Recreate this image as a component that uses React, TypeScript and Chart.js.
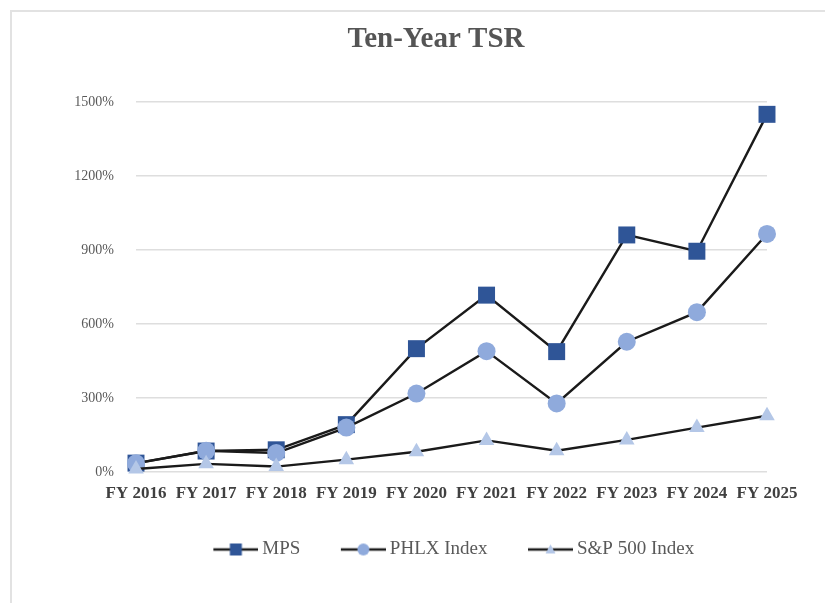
import React, { useEffect, useRef } from 'react';
import { Chart, registerables } from 'chart.js';

Chart.register(...registerables);

const chartTitle = 'Ten-Year TSR';
const categories = ['FY 2016', 'FY 2017', 'FY 2018', 'FY 2019', 'FY 2020', 'FY 2021', 'FY 2022', 'FY 2023', 'FY 2024', 'FY 2025'];
const seriesNames = ['MPS', 'PHLX Index', 'S&P 500 Index'];
const mpsValues = [36, 85, 90, 192, 500, 717, 488, 961, 895, 1450];
const phlxValues = [35, 86, 77, 180, 318, 490, 278, 528, 648, 965];
const spValues = [12, 33, 22, 50, 82, 128, 86, 130, 180, 228];
const yTickMin = 0;
const yTickMax = 1500;
const yTickStep = 300;

const FONT = "'Liberation Serif', 'Times New Roman', serif";
const LINE = '#1a1a1a';
const COLORS = ['#2F5597', '#8FAADC', '#B4C7E7'];
const STYLES = ['rect', 'circle', 'triangle'];
const RADII = [12, 9, 9];

// legend icon: transparent left margin, then a 45px line with the marker in its middle
const ICON_W = 55;
const ICON_LINE = 45;
function legendIcon(style: string, color: string): HTMLCanvasElement {
  const c = document.createElement('canvas');
  c.width = ICON_W;
  c.height = 16;
  const ctx = c.getContext('2d')!;
  const x0 = ICON_W - ICON_LINE;
  const cx = x0 + ICON_LINE / 2;
  ctx.strokeStyle = LINE;
  ctx.lineWidth = 2.5;
  ctx.beginPath();
  ctx.moveTo(x0, 8);
  ctx.lineTo(ICON_W, 8);
  ctx.stroke();
  ctx.fillStyle = color;
  ctx.beginPath();
  if (style === 'rect') {
    ctx.rect(cx - 6, 2, 12, 12);
  } else if (style === 'circle') {
    ctx.arc(cx, 8, 6, 0, Math.PI * 2);
  } else {
    ctx.moveTo(cx, 3);
    ctx.lineTo(cx + 5, 12);
    ctx.lineTo(cx - 5, 12);
    ctx.closePath();
  }
  ctx.fill();
  return c;
}

const framePlugin = {
  id: 'frameAndTitle',
  beforeDraw(chart: any) {
    const ctx = chart.ctx;
    ctx.save();
    ctx.fillStyle = '#ffffff';
    ctx.fillRect(0, 0, chart.width, chart.height);
    ctx.strokeStyle = '#e2e2e2';
    ctx.lineWidth = 2;
    ctx.strokeRect(11, 11, chart.width + 20, chart.height + 20);
    ctx.restore();
  },
  afterDraw(chart: any) {
    const ctx = chart.ctx;
    ctx.save();
    ctx.font = `bold 29px ${FONT}`;
    ctx.fillStyle = '#555555';
    ctx.textAlign = 'center';
    ctx.textBaseline = 'middle';
    ctx.fillText(chartTitle, 436, 40);
    ctx.restore();
  },
};

export default function App() {
  const ref = useRef<HTMLCanvasElement>(null);

  useEffect(() => {
    if (!ref.current) return;
    const seriesValues = [mpsValues, phlxValues, spValues];
    const icons = STYLES.map((s, i) => legendIcon(s, COLORS[i]));
    const chart = new Chart(ref.current, {
      type: 'line',
      data: {
        labels: categories,
        datasets: seriesNames.map((name, i) => ({
          label: name,
          data: seriesValues[i],
          borderColor: LINE,
          borderWidth: 2.4,
          tension: 0,
          fill: false,
          pointStyle: STYLES[i] as any,
          pointRadius: RADII[i],
          pointHoverRadius: RADII[i],
          pointBackgroundColor: COLORS[i],
          pointBorderColor: COLORS[i],
          pointBorderWidth: 0,
          order: 3 - i,
          clip: false as any,
        })),
      },
      options: {
        responsive: false,
        animation: false,
        layout: { padding: { left: 20, right: 58, top: 102, bottom: 34 } },
        plugins: {
          title: { display: false },
          tooltip: { enabled: false },
          legend: {
            display: true,
            position: 'bottom',
            fullSize: false,
            labels: {
              usePointStyle: true,
              pointStyleWidth: 44,
              padding: 36,
              color: '#595959',
              font: { family: FONT, size: 19 },
              generateLabels: () =>
                seriesNames.map((name, i) => ({
                  text: name,
                  pointStyle: icons[i] as any,
                  fillStyle: COLORS[i],
                  strokeStyle: LINE,
                  lineWidth: 0,
                  hidden: false,
                  datasetIndex: i,
                  fontColor: '#595959',
                })),
            },
          },
        },
        scales: {
          x: {
            offset: false,
            grid: { display: false, drawTicks: false },
            border: { display: false },
            ticks: {
              autoSkip: false,
              maxRotation: 0,
              minRotation: 0,
              padding: 11,
              color: '#404040',
              font: { family: FONT, size: 17, weight: 'bold' },
            },
            afterFit: (scale: any) => {
              scale.height = 32;
            },
          },
          y: {
            min: yTickMin,
            max: yTickMax,
            grid: { color: '#dedede', lineWidth: 1.6, drawTicks: false },
            border: { display: false },
            ticks: {
              stepSize: yTickStep,
              padding: 22,
              color: '#595959',
              font: { family: FONT, size: 14 },
              callback: (v: any) => `${v}%`,
            },
            afterFit: (scale: any) => {
              scale.width = 116;
            },
          },
        },
      },
      plugins: [framePlugin],
    });
    return () => chart.destroy();
  }, []);

  return (
    <div style={{ position: 'absolute', left: 0, top: 0, width: 825, height: 603 }}>
      <canvas ref={ref} width={825} height={603} style={{ display: 'block' }} />
    </div>
  );
}
